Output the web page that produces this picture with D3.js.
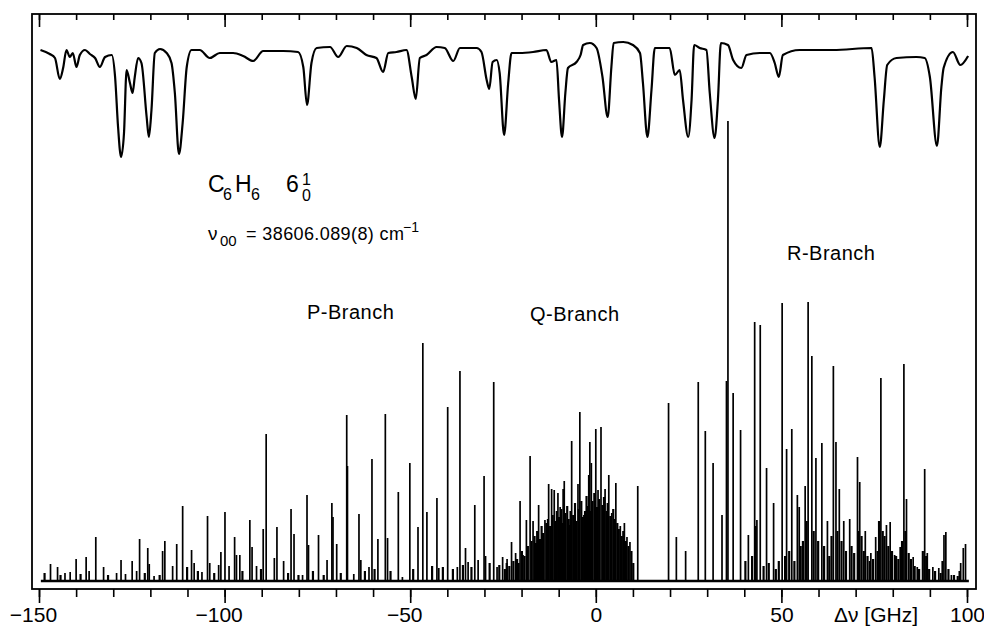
<!DOCTYPE html>
<html>
<head>
<meta charset="utf-8">
<script src="https://cdn.jsdelivr.net/npm/d3@7"></script>
<style>
  body { margin: 0; background: #fff; }
  svg { display: block; font-family: "Liberation Sans", Arial, sans-serif; }
</style>
</head>
<body>
<svg width="984" height="630"></svg>
<script>
let width = 984,
  height = 630;

// upper trace (reference absorption), x in GHz, depth below its top level
let traceGHz = [-149.6,-147.1,-145.7,-144.4,-143.5,-142.6,-141.7,-140.9,-139.9,-139.0,-137.6,-136.3,-134.9,-133.6,-132.2,-130.4,-129.5,-128.7,-127.9,-127.1,-126.4,-125.5,-124.8,-124.2,-123.3,-122.4,-121.0,-120.4,-119.7,-118.8,-117.4,-115.6,-114.3,-113.4,-112.3,-111.3,-110.2,-108.9,-106.7,-104.0,-101.3,-97.7,-95.0,-92.3,-89.6,-84.2,-80.2,-78.8,-77.8,-76.6,-75.2,-71.6,-69.4,-67.1,-64.4,-61.8,-59.1,-57.3,-55.9,-53.7,-51.0,-49.6,-48.5,-47.4,-45.6,-42.9,-40.7,-38.4,-36.6,-32.1,-30.8,-29.4,-28.7,-27.8,-26.7,-25.9,-24.7,-23.6,-22.7,-20.5,-16.9,-13.3,-12.0,-10.6,-9.9,-9.1,-8.2,-7.5,-5.2,-4.1,-3.4,-1.6,0.2,1.8,3.2,4.2,4.8,7.4,10.0,11.9,12.7,13.9,15.0,15.9,18.1,19.9,21.3,22.6,23.5,24.9,25.8,26.5,28.0,29.8,30.7,32.0,32.9,33.7,35.6,37.0,39.2,40.6,44.2,46.9,48.2,49.3,50.4,54.9,63.9,74.3,75.1,76.5,77.6,78.5,81.0,86.4,88.6,90.0,91.9,93.1,93.7,96.2,98.2,100.3];
let traceDepth = [8,12,16,37,26,8,15,11,25,13,8,12,16,25,15,13,35,85,115,91,28,41,51,35,16,21,75,95,68,11,7,11,21,51,112,81,25,8,8,16,11,11,14,19,9,9,10,25,63,21,6,5,15,4,6,13,16,30,11,10,8,35,57,16,13,5,6,19,6,6,10,38,47,20,18,31,93,41,11,11,10,8,20,18,58,95,51,26,20,13,3,1,6,35,75,25,1,0,3,11,41,95,48,6,6,6,33,28,58,95,58,3,6,8,51,96,58,1,3,18,26,13,11,11,21,35,13,8,8,6,35,105,58,23,16,15,16,35,104,45,26,10,23,14];

// resolved lines of the excitation spectrum
let lineGHz = [-146.9,-145.0,-143.0,-141.6,-140.0,-137.3,-136.5,-134.7,-132.6,-129.1,-127.9,-126.7,-124.9,-123.7,-122.9,-120.7,-120.3,-119.0,-116.7,-116.1,-114.0,-112.9,-111.3,-108.9,-108.2,-106.1,-104.6,-104.0,-101.6,-101.0,-99.9,-98.8,-97.3,-96.8,-95.9,-93.2,-92.6,-91.4,-89.6,-88.8,-86.6,-85.9,-84.1,-82.1,-81.3,-79.0,-77.8,-77.4,-74.7,-72.4,-71.1,-70.8,-69.8,-67.1,-66.9,-65.2,-63.8,-63.3,-61.1,-60.3,-58.7,-56.7,-56.1,-53.2,-52.1,-50.1,-47.9,-46.6,-45.5,-42.8,-42.3,-39.9,-37.3,-36.6,-35.1,-34.4,-32.6,-31.7,-30.1,-29.7,-27.5,-26.6,-25.1,-23.9,-22.7,-21.6,-20.4,-19.6,-18.7,-17.7,-16.9,-15.4,-13.7,-12.7,-11.9,-11.2,-10.2,-9.6,-8.8,-8.5,-7.0,-6.5,-4.8,-4.3,-3.2,-1.9,-1.6,-1.2,0.0,0.6,1.4,2.5,3.5,4.3,5.4,6.6,7.7,8.4,9.2,11.3,19.6,21.7,24.2,27.6,29.5,31.6,34.0,35.2,35.6,37.0,39.0,41.1,42.8,43.4,44.3,46.0,47.9,50.2,51.4,52.8,54.3,54.8,56.4,57.2,58.2,59.3,60.9,62.4,64.0,64.7,65.6,66.8,68.4,70.5,71.1,72.6,74.1,75.4,76.8,78.3,79.3,80.5,82.0,83.0,83.7,85.5,86.6,88.6,89.3,90.8,92.4,93.8,94.3,95.8,98.3,99.0,99.6];
let lineHeight = [17,14,8,9,22,24,10,44,14,8,21,7,20,10,42,33,17,5,30,40,15,37,75,31,18,9,65,18,16,29,69,15,44,26,26,61,34,15,52,147,23,54,20,72,47,6,86,36,46,21,78,64,37,166,115,7,67,21,14,122,42,167,43,89,4,118,54,238,69,83,13,174,14,210,33,19,76,21,105,25,199,14,24,22,39,28,80,26,61,125,60,76,61,97,92,91,88,74,92,100,56,140,97,169,66,106,139,118,152,91,154,92,106,68,98,55,58,44,39,95,178,44,30,199,150,118,66,200,460,188,151,46,259,61,256,113,78,278,132,152,86,74,95,279,225,123,138,60,215,139,92,60,62,124,99,50,28,44,203,56,59,26,34,217,82,24,14,112,28,14,13,46,49,6,18,33,37];

// unresolved small lines (P baseline, dense Q branch, R tail)
let grassGHz = [-148.5,-144.2,-138.8,-131.4,-121.5,-117.5,-110.1,-107.2,-102.8,-95.2,-90.2,-82.9,-80.1,-76.2,-73.3,-68.7,-62.2,-59.6,-55.3,-49.2,-44.1,-41.2,-38.5,-35.8,-33.5,-28.6,-26.0,-24.5,-24.0,-23.3,-22.2,-21.2,-20.8,-19.9,-19.2,-18.3,-17.3,-16.5,-16.1,-15.8,-15.0,-14.6,-14.2,-13.3,-12.9,-12.3,-11.6,-10.9,-10.5,-9.9,-9.3,-9.0,-8.2,-7.7,-7.3,-6.8,-6.1,-5.6,-5.2,-4.6,-3.9,-3.5,-2.9,-2.5,-2.2,-1.4,-0.9,-0.4,0.3,0.9,1.8,2.2,2.9,3.2,3.9,4.7,5.0,5.8,6.2,7.0,7.4,8.1,8.8,9.6,10.1,40.3,42.1,43.0,45.2,46.6,48.5,49.3,51.0,52.1,53.5,55.2,55.8,56.8,58.7,59.9,61.5,62.9,63.5,65.1,66.2,67.4,68.9,69.6,70.9,71.6,72.2,73.2,73.8,74.7,75.9,76.3,77.3,77.8,78.8,79.8,80.9,81.5,82.5,83.4,84.3,84.9,85.9,87.1,88.1,89.0,89.8,91.4,92.9,93.4,95.0,96.5,97.5,98.0];
let grassHeight = [8,6,7,6,8,6,14,10,8,10,12,8,6,10,6,8,10,12,10,12,15,14,12,16,14,18,16,12,18,15,20,22,18,30,25,35,40,45,38,50,42,55,48,58,62,55,66,60,70,64,72,58,68,75,62,70,66,78,60,72,80,64,70,85,75,70,80,88,74,82,76,84,70,78,65,72,62,58,52,45,50,40,35,30,18,20,25,55,15,18,12,20,25,30,20,35,40,60,50,40,35,25,45,50,40,30,35,28,50,45,30,25,20,22,30,60,50,45,35,30,25,22,40,50,28,22,15,12,30,25,12,10,8,20,12,6,5,10];

let xTicksMinor = d3.range(-150, 101, 10);
let xTicksMajor = [-150, -100, -50, 0, 50, 100];

let svg = d3.select("svg").attr("viewBox", "0 0 " + width + " " + height);

let x = d3.scaleLinear().domain([-150, 100]).range([39, 967]);
let yTrace = d3.scaleLinear().domain([0, 100]).range([42, 142]);
let ySpec = d3.scaleLinear().domain([0, 460]).range([581, 121]);

// frame
svg.append("rect")
  .attr("x", 32).attr("y", 14)
  .attr("width", 944).attr("height", 575)
  .attr("fill", "none").attr("stroke", "black").attr("stroke-width", 1.8);

// tick marks only (top ones point inward)
function tickAxis(yPos, ticks, size) {
  let g = svg.append("g")
    .attr("transform", "translate(0," + yPos + ")")
    .call(d3.axisBottom(x).tickValues(ticks).tickSize(size).tickFormat(""));
  g.select(".domain").remove();
  g.selectAll("line").attr("stroke-width", 1.6);
  return g;
}
tickAxis(14, xTicksMinor, 6);
tickAxis(14, xTicksMajor, 13);
tickAxis(589, xTicksMinor, 8);

let bottom = svg.append("g")
  .attr("transform", "translate(0,589)")
  .call(d3.axisBottom(x).tickValues(xTicksMajor).tickSize(14).tickPadding(0));
bottom.select(".domain").remove();
bottom.selectAll("line").attr("stroke-width", 1.6);
bottom.selectAll("text")
  .attr("y", 33).attr("dy", 0)
  .attr("dx", (d) => (d < 0 ? -6 : 0))
  .style("font-size", "21px")
  .style("font-family", "'Liberation Sans', Arial, sans-serif")
  .attr("fill", "black");

svg.append("text")
  .attr("x", 834).attr("y", 622)
  .style("font-size", "21px")
  .text("Δν [GHz]");

// upper trace
let traceLine = d3.line()
  .x((d, i) => x(traceGHz[i]))
  .y((d) => yTrace(d))
  .curve(d3.curveMonotoneX);

svg.append("path")
  .attr("d", traceLine(traceDepth))
  .attr("fill", "none")
  .attr("stroke", "black")
  .attr("stroke-width", 2.2)
  .attr("stroke-linejoin", "round");

// spectrum baseline
svg.append("line")
  .attr("x1", x(-149.5)).attr("x2", x(100.5))
  .attr("y1", ySpec(0)).attr("y2", ySpec(0))
  .attr("stroke", "black").attr("stroke-width", 2.5);

svg.append("g")
  .selectAll("line")
  .data(grassGHz)
  .enter()
  .append("line")
  .attr("x1", (d) => x(d)).attr("x2", (d) => x(d))
  .attr("y1", ySpec(0))
  .attr("y2", (d, i) => ySpec(grassHeight[i]))
  .attr("stroke", "black")
  .attr("stroke-width", 2.2);

svg.append("g")
  .selectAll("line")
  .data(lineGHz)
  .enter()
  .append("line")
  .attr("x1", (d) => x(d)).attr("x2", (d) => x(d))
  .attr("y1", ySpec(0))
  .attr("y2", (d, i) => ySpec(lineHeight[i]))
  .attr("stroke", "black")
  .attr("stroke-width", 1.7);

// labels
function label(tx, ty, size, str) {
  return svg.append("text").attr("x", tx).attr("y", ty)
    .style("font-size", size + "px").text(str);
}
label(208, 192, 23, "C");
label(223, 200, 16, "6");
label(235, 192, 23, "H");
label(251, 200, 16, "6");
label(286, 192, 23, "6");
label(302, 185, 16, "1");
label(302, 201, 16, "0");

label(208, 240, 19, "ν");
label(220, 246, 15, "00");
label(246, 240, 18, "= 38606.089(8) cm").style("letter-spacing", "0.4px");
label(403, 232, 14, "−1");

label(307, 319, 20, "P-Branch").style("letter-spacing", "0.5px");
label(530, 321, 20, "Q-Branch").style("letter-spacing", "0.5px");
label(787, 260, 20, "R-Branch").style("letter-spacing", "0.5px");
</script>
</body>
</html>
